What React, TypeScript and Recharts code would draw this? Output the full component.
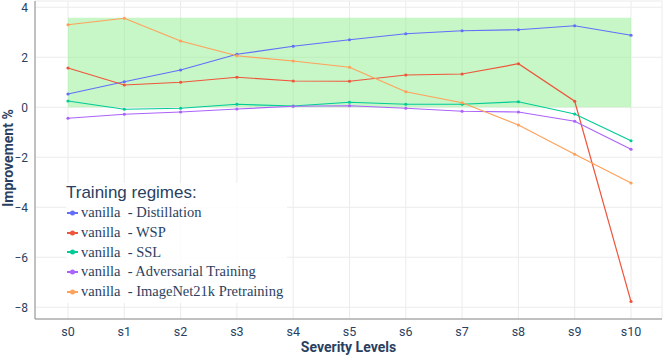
import {
  LineChart, Line, XAxis, YAxis, CartesianGrid, ReferenceArea,
} from 'recharts';

const levels = ['s0', 's1', 's2', 's3', 's4', 's5', 's6', 's7', 's8', 's9', 's10'];

const distillation = [0.53, 1.02, 1.49, 2.12, 2.44, 2.7, 2.94, 3.06, 3.1, 3.26, 2.88];
const wsp = [1.57, 0.89, 1.0, 1.2, 1.05, 1.04, 1.29, 1.33, 1.74, 0.24, -7.77];
const ssl = [0.25, -0.08, -0.04, 0.12, 0.05, 0.2, 0.12, 0.12, 0.22, -0.27, -1.34];
const adversarial = [-0.44, -0.28, -0.19, -0.07, 0.04, 0.06, -0.04, -0.16, -0.19, -0.56, -1.68];
const imagenet21k = [3.3, 3.56, 2.65, 2.06, 1.85, 1.6, 0.62, 0.18, -0.71, -1.88, -3.03];

const yTicks = [-8, -6, -4, -2, 0, 2, 4];
const bandLow = 0;
const bandHigh = 3.58;

const series = [
  { key: 'distillation', name: 'vanilla  - Distillation', color: '#636efa', values: distillation },
  { key: 'wsp', name: 'vanilla  - WSP', color: '#ef553b', values: wsp },
  { key: 'ssl', name: 'vanilla  - SSL', color: '#00cc96', values: ssl },
  { key: 'adversarial', name: 'vanilla  - Adversarial Training', color: '#ab63fa', values: adversarial },
  { key: 'imagenet21k', name: 'vanilla  - ImageNet21k Pretraining', color: '#ffa15a', values: imagenet21k },
];

const chartData = levels.map((lvl, i) => {
  const row: any = { level: lvl };
  for (const s of series) row[s.key] = s.values[i];
  return row;
});

const textColor = '#2a3f5f';
const frameColor = '#8c8c8c';

function LegendBox() {
  return (
    <div style={{ position: 'absolute', left: 66, top: 183, background: 'rgba(255,255,255,0.85)', padding: '0 4px 2px 0' }}>
      <div style={{ fontFamily: '"Liberation Sans", Arial, sans-serif', fontSize: 17, color: textColor, lineHeight: '20px' }}>
        Training regimes:
      </div>
      {series.map((s) => (
        <div key={s.key} style={{ display: 'flex', alignItems: 'center', height: 19.7 }}>
          <svg width={14} height={10} style={{ marginRight: 1 }}>
            <line x1={1} y1={5} x2={12} y2={5} stroke={s.color} strokeWidth={2} />
            <circle cx={6.5} cy={5} r={2.5} fill={s.color} />
          </svg>
          <span style={{ fontFamily: '"Liberation Serif", "Times New Roman", serif', fontSize: 14.5, color: textColor, whiteSpace: 'pre' }}>
            {s.name}
          </span>
        </div>
      ))}
    </div>
  );
}

export default function App() {
  return (
    <div style={{ position: 'absolute', left: 0, top: 0, width: 665, height: 355, background: '#fff' }}>
      <LineChart width={665} height={355} data={chartData} margin={{ top: 1, right: 3, left: 0, bottom: 0 }}>
        <CartesianGrid stroke="#ebebeb" />
        <XAxis
          dataKey="level"
          padding={{ left: 33, right: 31 }}
          height={36}
          tickLine={false}
          axisLine={{ stroke: frameColor }}
          tick={{ fontSize: 12.5, fill: textColor, fontFamily: 'Roboto, sans-serif' }}
          tickMargin={2}
          interval={0}
          label={{ value: 'Severity Levels', position: 'insideBottom', offset: 3, fontSize: 14, fontWeight: 700, fill: textColor, fontFamily: 'Roboto, sans-serif' }}
        />
        <XAxis xAxisId="top" dataKey="level" orientation="top" height={0} tick={false} tickLine={false} axisLine={{ stroke: frameColor }} padding={{ left: 33, right: 31 }} />
        <YAxis
          domain={[-8.47, 4.25]}
          ticks={yTicks}
          width={35}
          tickLine={false}
          axisLine={{ stroke: frameColor }}
          tick={{ fontSize: 12, fill: textColor, fontFamily: 'Roboto, sans-serif' }}
          tickFormatter={(v) => (v < 0 ? `\u2212${Math.abs(v)}` : `${v}`)}
          tickMargin={1}
        />
        <YAxis yAxisId="right" orientation="right" width={0} tick={false} tickLine={false} axisLine={{ stroke: frameColor }} domain={[-8.47, 4.25]} />
        <ReferenceArea x1="s0" x2="s10" y1={bandLow} y2={bandHigh} fill="#90ee90" fillOpacity={0.5} stroke="none" />
        {series.map((s) => (
          <Line
            key={s.key}
            type="linear"
            dataKey={s.key}
            name={s.name}
            stroke={s.color}
            strokeWidth={1.2}
            dot={{ r: 1.6, fill: s.color, stroke: s.color, strokeWidth: 0 }}
            activeDot={false}
            isAnimationActive={false}
          />
        ))}
      </LineChart>
      <div
        style={{
          position: 'absolute', left: 8, top: 158, transform: 'translate(-50%, -50%) rotate(-90deg)',
          fontFamily: 'Roboto, sans-serif', fontSize: 14, fontWeight: 700, color: textColor, whiteSpace: 'nowrap',
          lineHeight: '14px',
        }}
      >
        Improvement %
      </div>
      <LegendBox />
    </div>
  );
}
